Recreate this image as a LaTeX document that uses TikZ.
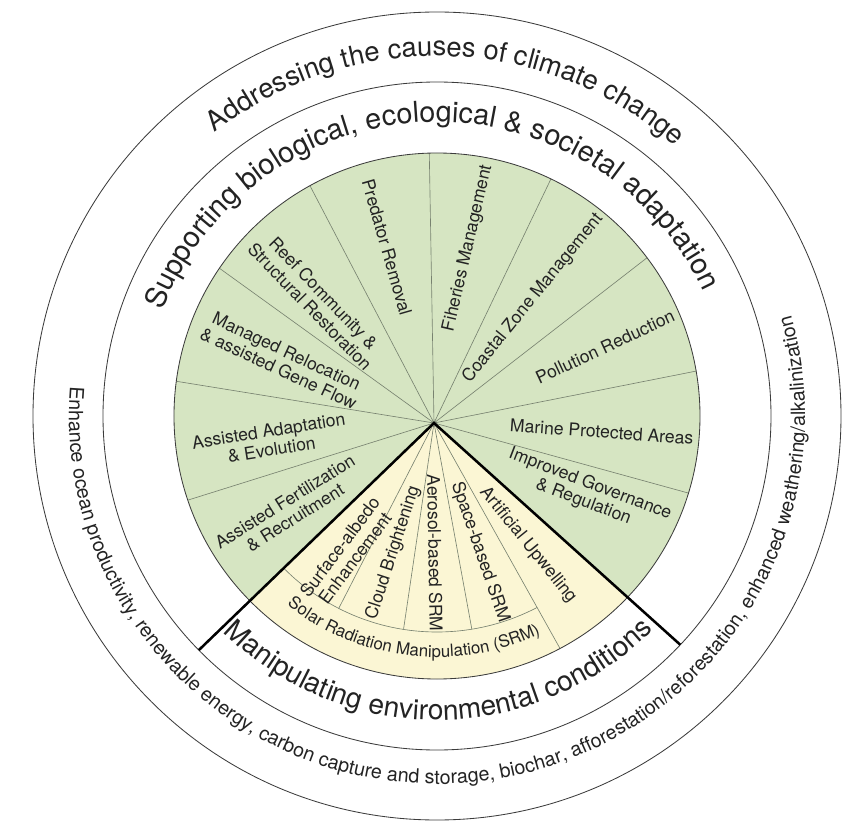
\documentclass[tikz,border=0pt]{standalone}
\usepackage{fontspec}
\setmainfont{TeX Gyre Heros}
\usepackage{tikz}
\usetikzlibrary{calc, decorations.text}
\usepackage{xcolor}
\definecolor{sage}{RGB}{214,229,194}
\definecolor{cream}{RGB}{251,246,212}
\definecolor{rim}{RGB}{60,60,60}
\definecolor{spokegray}{RGB}{120,130,112}
\definecolor{ink}{RGB}{35,35,35}

\begin{document}
\begin{tikzpicture}[
  every node/.style={font=\fontsize{12.5}{13.5}\selectfont},
  lbl/.style={align=center, inner sep=1pt, text=ink},
  ring/.style={draw=rim, line width=0.6pt},
  spoke/.style={draw=spokegray, line width=0.45pt},
  divider/.style={draw=black, line width=1.8pt, line join=miter},
  ringtext/.style={decorate, decoration={text along path, text align=center,
                   text color=ink, text={#1}}}
]
  \useasboundingbox (-10.925,-10.15) rectangle (10.375,10.4);
  \coordinate (c)   at (0,0);
  \coordinate (hub) at (-0.075,-0.175);

  % ---- outer rings ----
  \draw[ring] (c) circle (10.1);
  \draw[ring] (c) circle (8.35);

  % ---- inner disc: green adaptation wedges, cream SRM sector ----
  \fill[sage] (c) circle (6.575);
  \begin{scope}
    \clip (c) circle (6.575);
    \fill[cream] (hub) -- ($(hub)+(224:8)$) -- ($(hub)+(271:11)$) -- ($(hub)+(-42:8)$) -- cycle;
    \draw[spoke] (hub) -- ($(hub)+(197.4:8)$);
    \draw[spoke] (hub) -- ($(hub)+(170.8:8)$);
    \draw[spoke] (hub) -- ($(hub)+(144.2:8)$);
    \draw[spoke] (hub) -- ($(hub)+(117.6:8)$);
    \draw[spoke] (hub) -- ($(hub)+(91:8)$);
    \draw[spoke] (hub) -- ($(hub)+(64.4:8)$);
    \draw[spoke] (hub) -- ($(hub)+(37.8:8)$);
    \draw[spoke] (hub) -- ($(hub)+(11.2:8)$);
    \draw[spoke] (hub) -- ($(hub)+(-15.4:8)$);
    \draw[spoke] (hub) -- ($(hub)+(-60.8:8)$);
  \end{scope}

  % ---- SRM band and its short spokes ----
  \begin{scope}
    \clip (c) circle (5.4);
    \draw[spoke] (hub) -- ($(hub)+(-117.2:8)$);
    \draw[spoke] (hub) -- ($(hub)+(-98.4:8)$);
    \draw[spoke] (hub) -- ($(hub)+(-79.6:8)$);
  \end{scope}
  \begin{scope}
    \clip (hub) -- ($(hub)+(224:9)$) -- ($(hub)+(261.6:12)$) -- ($(hub)+(-60.8:9)$) -- cycle;
    \draw[spoke] (c) circle (5.4);
  \end{scope}
  \draw[ring] (c) circle (6.575);

  % ---- thick dividers of the manipulation sector ----
  \begin{scope}
    \clip (c) circle (8.35);
    \draw[divider] ($(hub)+(224:9)$) -- (hub) -- ($(hub)+(-42:9)$);
  \end{scope}

  % ---- adaptation labels ----
  \node[lbl, rotate=32]  (fert)   at ($(hub)+(211:4.2)$)   {Assisted Fertilization\\\& Recruitment};
  \node[lbl, rotate=9]   (adapt)  at ($(hub)+(186:4.12)$)  {Assisted Adaptation\\\& Evolution};
  \node[lbl, rotate=-25] (reloc)  at ($(hub)+(157.4:4.1)$) {Managed Relocation\\\& assisted Gene Flow};
  \node[lbl, rotate=-46] (reef)   at ($(hub)+(133.6:4.25)$){Reef Community \&\\Structural Restoration};
  \node[lbl, rotate=-74] (pred)   at ($(hub)+(105:4.55)$)  {Predator Removal};
  \node[lbl, rotate=77]  (fish)   at ($(hub)+(79:4.45)$)   {Fiheries Management};
  \node[lbl, rotate=51]  (coast)  at ($(hub)+(51.6:3.98)$) {Coastal Zone Management};
  \node[lbl, rotate=25]  (poll)   at ($(hub)+(24:4.68)$)   {Pollution Reduction};
  \node[lbl, rotate=-4]  (mpa)    at ($(hub)+(-3:4.2)$)    {Marine Protected Areas};
  \node[lbl, rotate=-21] (gov)    at ($(hub)+(-24.6:4.2)$) {Improved Governance\\\& Regulation};

  % ---- manipulation labels ----
  \node[lbl, rotate=53]  (albedo) at ($(hub)+(-123.8:3.9)$) {Surface-albedo\\Enhancement};
  \node[lbl, rotate=72]  (cloud)  at ($(hub)+(-107.5:3.4)$) {Cloud Brightening};
  \node[lbl, rotate=-89] (aero)   at ($(hub)+(-89.6:3.25)$) {Aerosol-based SRM};
  \node[lbl, rotate=-71] (space)  at ($(hub)+(-70.4:3.43)$) {Space-based SRM};
  \node[lbl, rotate=-51] (upwell) at ($(hub)+(-52.4:3.85)$) {Artificial Upwelling};

  % ---- curved ring titles ----
  \path[ringtext={|\fontsize{12}{13}\selectfont|Solar Radiation Manipulation (SRM)}]
    ($(c)+(173.5:6.03)$) arc[start angle=173.5, end angle=353.5, radius=6.03];
  \path[ringtext={|\fontsize{20}{22}\selectfont|Manipulating environmental conditions}]
    ($(c)+(180.3:7.6)$) arc[start angle=180.3, end angle=360.3, radius=7.6];
  \path[ringtext={|\fontsize{20.5}{22}\selectfont|Supporting biological, ecological {\&} societal adaptation}]
    ($(c)+(182:7.35)$) arc[start angle=182, end angle=2, radius=7.35];
  \path[ringtext={|\fontsize{19.5}{21}\selectfont|Addressing the causes of climate change}]
    ($(c)+(178.3:9.0)$) arc[start angle=178.3, end angle=-1.7, radius=9.0];
  \path[ringtext={|\fontsize{14}{15}\selectfont|Enhance ocean productivity, renewable energy, carbon capture and storage, biochar, afforestation/reforestation, enhanced weathering/alkalinization}]
    ($(c)+(125.6:9.2)$) arc[start angle=125.6, end angle=425.6, radius=9.2];
\end{tikzpicture}
\end{document}
